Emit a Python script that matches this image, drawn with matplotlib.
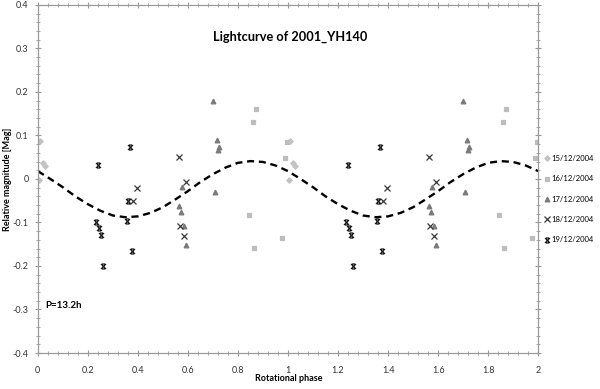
import matplotlib
matplotlib.use("Agg")
import matplotlib.pyplot as plt
from matplotlib.path import Path
from matplotlib.ticker import MultipleLocator

plt.rcParams['font.family'] = ['Lato', 'DejaVu Sans']

# one rotational cycle of each night (phase, relative magnitude); drawn again at phase + 1
n15_phase = [0.008, 0.021, 0.028, 0.004]
n15_mag = [0.087, 0.036, 0.030, -0.002]

n16_phase = [0.872, 0.861, 0.845, 0.865, 0.977, 0.988, 0.995]
n16_mag = [0.161, 0.131, -0.083, -0.158, -0.136, 0.049, 0.085]

n17_phase = [0.701, 0.715, 0.721, 0.725, 0.577, 0.708, 0.564, 0.572, 0.585, 0.591]
n17_mag = [0.180, 0.089, 0.067, 0.073, -0.018, -0.031, -0.062, -0.076, -0.108, -0.151]

n18_phase = [0.395, 0.381, 0.564, 0.591, 0.569, 0.584]
n18_mag = [-0.020, -0.051, 0.051, -0.008, -0.109, -0.130]

n19_phase = [0.241, 0.232, 0.244, 0.252, 0.259, 0.355, 0.361, 0.368, 0.375]
n19_mag = [0.031, -0.099, -0.113, -0.128, -0.201, -0.097, -0.050, 0.073, -0.165]

# fitted lightcurve, one cycle
fit_phase = [0.00, 0.05, 0.10, 0.15, 0.20, 0.25, 0.30, 0.35, 0.40, 0.45, 0.50,
             0.55, 0.60, 0.65, 0.70, 0.75, 0.80, 0.85, 0.90, 0.95, 1.00]
fit_mag = [0.018, 0.000, -0.019, -0.040, -0.058, -0.073, -0.084, -0.088, -0.086, -0.078, -0.065,
           -0.047, -0.028, -0.007, 0.011, 0.026, 0.037, 0.041, 0.039, 0.031, 0.018]

# excel-like "star": an x with short bars on top and bottom
star = Path([(-1, -1), (1, 1), (-1, 1), (1, -1), (-0.6, 1), (0.6, 1), (-0.6, -1), (0.6, -1)],
            [Path.MOVETO, Path.LINETO] * 4)

nights = [
    ("15/12/2004", n15_phase, n15_mag, "D", "#c4c4c4", 2.8),
    ("16/12/2004", n16_phase, n16_mag, "s", "#bdbdbd", 3.4),
    ("17/12/2004", n17_phase, n17_mag, "^", "#7a7a7a", 3.4),
    ("18/12/2004", n18_phase, n18_mag, "x", "#3a3a3a", 3.8),
    ("19/12/2004", n19_phase, n19_mag, star, "#1a1a1a", 3.6),
]

fig = plt.figure(figsize=(6, 3.89), dpi=100)
ax = fig.add_axes([0.063, 0.0925, 0.834, 0.895])

for label, ph, mag, mk, col, ms in nights:
    ax.plot(ph + [p + 1 for p in ph], mag + mag, linestyle="none", marker=mk,
            color=col, markersize=ms, markeredgewidth=0.9, label=label)

ax.plot(fit_phase + [p + 1 for p in fit_phase[1:]], fit_mag + fit_mag[1:],
        color="black", linewidth=1.7, linestyle=(0, (3, 2)))

ax.set_xlim(0, 2)
ax.set_ylim(-0.4, 0.4)
ax.xaxis.set_major_locator(MultipleLocator(0.2))
ax.xaxis.set_minor_locator(MultipleLocator(0.04))
ax.yaxis.set_major_locator(MultipleLocator(0.1))
ax.yaxis.set_minor_locator(MultipleLocator(0.02))
ax.xaxis.set_major_formatter(lambda v, p: f"{v:g}")
ax.yaxis.set_major_formatter(lambda v, p: f"{v:g}")

for s in ax.spines.values():
    s.set_color("#9a9a9a")
    s.set_linewidth(0.9)
ax.tick_params(which="both", direction="inout", color="#9a9a9a",
               top=True, right=True, labelsize=6.5, labelcolor="#333333")
ax.tick_params(axis="x", pad=7)
ax.tick_params(axis="y", pad=4)
ax.tick_params(which="major", length=5, width=0.8)
ax.tick_params(which="minor", length=3, width=0.6)

fig.text(0.482, 0.026, "Rotational phase", fontsize=6.5, fontweight="bold",
         ha="center", va="center")
fig.text(0.013, 0.54, "Relative magnitude [Mag]", fontsize=6.5, fontweight="bold",
         ha="center", va="center", rotation=90)

fig.text(0.483, 0.905, "Lightcurve of 2001_YH140", fontsize=9.2, fontweight="bold",
         ha="center", va="center")
ax.text(0.03, -0.29, "P=13.2h", fontsize=7, fontweight="bold", va="center")

fig.legend(loc="center left", bbox_to_anchor=(0.906, 0.488), frameon=False,
           fontsize=5.5, handletextpad=0.1, handlelength=0.9, labelspacing=1.75,
           borderpad=0, borderaxespad=0)

fig.savefig("out.png", dpi=100)
